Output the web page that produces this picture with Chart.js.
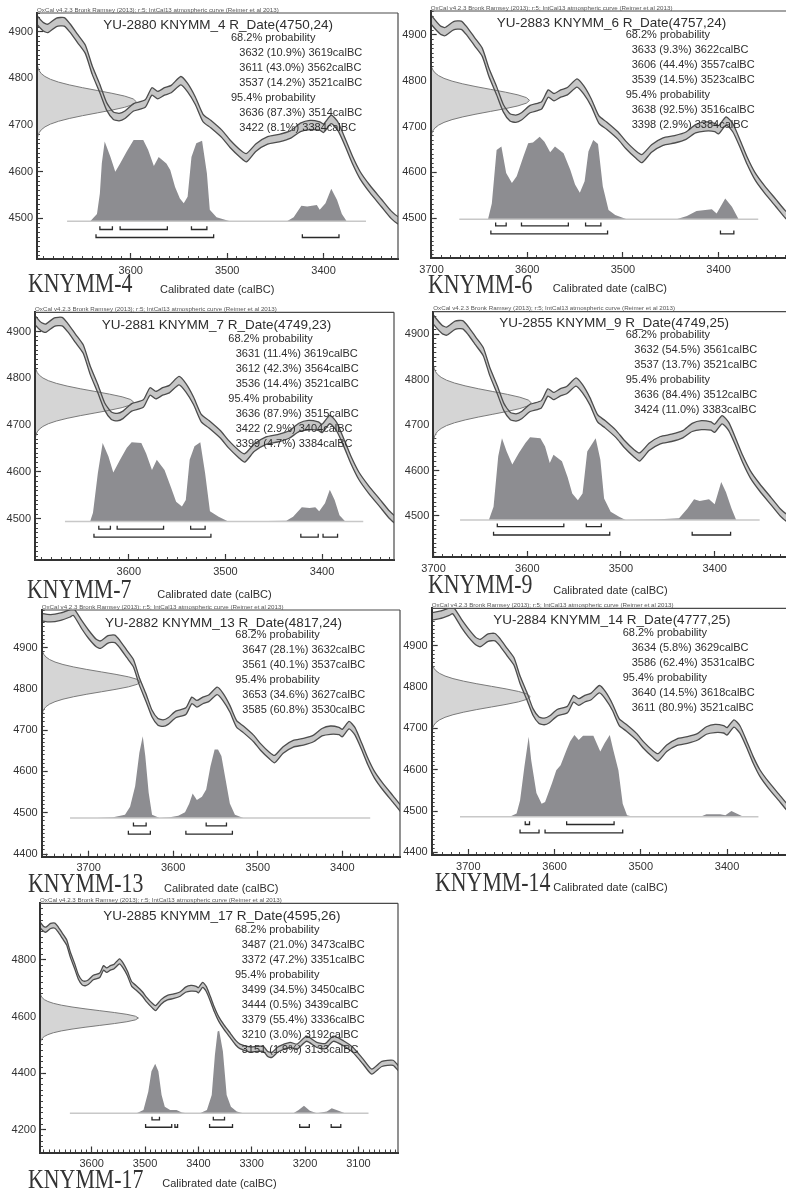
<!DOCTYPE html>
<html>
<head>
<meta charset="utf-8">
<title>OxCal calibrations KNYMM</title>
<script src="https://cdn.jsdelivr.net/npm/chart.js@4.4.1/dist/chart.umd.min.js"></script>
<style>
  html, body { margin: 0; padding: 0; background: #fff; }
  #sheet { position: relative; width: 786px; height: 1194px; overflow: hidden; font-family: "Liberation Sans", Arial, sans-serif; color: #2e2e2e; }
  #sheet canvas { position: absolute; }
  .txt { position: absolute; white-space: nowrap; z-index: 5; }
  .hdr { font-size: 6.2px; line-height: 7px; color: #555; }
  .ttl { font-size: 13.5px; line-height: 16px; }
  .prob { font-size: 11px; line-height: 15px; }
  .name { font-family: "Liberation Serif", "DejaVu Serif", serif; font-size: 27px; line-height: 27px; transform: scaleX(0.81); transform-origin: 0 0; color: #333; }
  .axt { font-size: 11px; line-height: 12px; }
</style>
</head>
<body>
<div id="sheet"></div>
<script>
// samples and their radiocarbon determinations
const sampleNames = ['KNYMM_4', 'KNYMM_6', 'KNYMM_7', 'KNYMM_9', 'KNYMM_13', 'KNYMM_14', 'KNYMM_17'];
const labCodes = ['YU-2880', 'YU-2883', 'YU-2881', 'YU-2855', 'YU-2882', 'YU-2884', 'YU-2885'];
const c14Ages = [4750, 4757, 4749, 4749, 4817, 4777, 4595];
const c14Errors = [24, 24, 23, 25, 24, 25, 26];

// calibrated ranges: [from, percent, to]
const ranges68 = [
  [[3632, 10.9, 3619], [3611, 43.0, 3562], [3537, 14.2, 3521]],
  [[3633, 9.3, 3622], [3606, 44.4, 3557], [3539, 14.5, 3523]],
  [[3631, 11.4, 3619], [3612, 42.3, 3564], [3536, 14.4, 3521]],
  [[3632, 54.5, 3561], [3537, 13.7, 3521]],
  [[3647, 28.1, 3632], [3561, 40.1, 3537]],
  [[3634, 5.8, 3629], [3586, 62.4, 3531]],
  [[3487, 21.0, 3473], [3372, 47.2, 3351]]
];
const ranges95 = [
  [[3636, 87.3, 3514], [3422, 8.1, 3384]],
  [[3638, 92.5, 3516], [3398, 2.9, 3384]],
  [[3636, 87.9, 3515], [3422, 2.9, 3404], [3399, 4.7, 3384]],
  [[3636, 84.4, 3512], [3424, 11.0, 3383]],
  [[3653, 34.6, 3627], [3585, 60.8, 3530]],
  [[3640, 14.5, 3618], [3611, 80.9, 3521]],
  [[3499, 34.5, 3450], [3444, 0.5, 3439], [3379, 55.4, 3336], [3210, 3.0, 3192], [3151, 1.9, 3133]]
];

// labelled ticks of each panel
const xTickVals = [
  [3600, 3500, 3400], [3700, 3600, 3500, 3400], [3600, 3500, 3400], [3700, 3600, 3500, 3400],
  [3700, 3600, 3500, 3400], [3700, 3600, 3500, 3400], [3600, 3500, 3400, 3300, 3200, 3100]
];
const yTickVals = [
  [4500, 4600, 4700, 4800, 4900], [4500, 4600, 4700, 4800, 4900], [4500, 4600, 4700, 4800, 4900], [4500, 4600, 4700, 4800, 4900],
  [4400, 4500, 4600, 4700, 4800, 4900], [4400, 4500, 4600, 4700, 4800, 4900], [4200, 4400, 4600, 4800]
];

// IntCal13 band (calBC, 14C age BP, half width)
const calYear = [3760, 3745, 3733, 3722, 3718, 3708, 3700, 3691, 3686, 3677, 3669, 3663, 3655, 3647, 3640, 3632, 3625, 3618, 3612, 3606,
  3597, 3585, 3578, 3572, 3565, 3558, 3548, 3541, 3533, 3525, 3517, 3505, 3497, 3486, 3480, 3470, 3458, 3446, 3434, 3424,
  3414, 3404, 3400, 3392, 3385, 3377, 3370, 3362, 3352, 3340, 3330, 3322, 3303, 3290, 3278, 3270, 3262, 3250, 3228, 3215,
  3197, 3178, 3162, 3147, 3128, 3110, 3091, 3075, 3056, 3035, 3022, 3010];
const calBP = [4975, 4971, 4975, 4983, 4987, 4955, 4932, 4911, 4907, 4920, 4921, 4908, 4885, 4862, 4818, 4778, 4740, 4720, 4717, 4722,
  4738, 4746, 4772, 4764, 4772, 4777, 4795, 4780, 4752, 4715, 4702, 4680, 4660, 4638, 4630, 4652, 4667, 4672, 4680, 4695,
  4700, 4698, 4693, 4712, 4697, 4660, 4625, 4592, 4563, 4533, 4508, 4495, 4484, 4486, 4486, 4468, 4465, 4485, 4500, 4494,
  4522, 4500, 4496, 4522, 4506, 4482, 4441, 4406, 4433, 4437, 4412, 4400];
const calErr = [9, 9, 9, 9, 9, 10, 10, 9, 9, 9, 9, 9, 9, 9, 9, 9, 8, 8, 8, 8,
  8, 8, 8, 8, 8, 8, 9, 9, 8, 8, 8, 8, 8, 8, 9, 8, 8, 8, 8, 9,
  10, 9, 9, 9, 9, 8, 8, 8, 8, 8, 8, 8, 9, 9, 9, 9, 9, 9, 9, 9,
  9, 9, 9, 9, 9, 9, 9, 9, 9, 9, 9, 9];

// posterior (calibrated) distributions, relative density in %
const postYears = [
  [3642, 3635, 3632, 3630, 3627, 3621, 3616, 3611, 3604, 3597, 3587, 3582, 3576, 3571, 3563, 3559, 3554, 3549, 3545, 3541, 3537, 3532, 3526, 3521, 3518, 3511, 3497, 3438, 3431, 3423, 3417, 3407, 3404, 3398, 3392, 3386, 3381, 3376],
  [3641, 3637, 3632, 3627, 3622, 3616, 3611, 3604, 3599, 3594, 3587, 3582, 3576, 3571, 3562, 3555, 3550, 3545, 3540, 3536, 3531, 3526, 3521, 3515, 3508, 3496, 3444, 3433, 3423, 3407, 3402, 3393, 3386, 3379],
  [3640, 3637, 3632, 3627, 3621, 3616, 3609, 3602, 3597, 3587, 3582, 3576, 3571, 3563, 3556, 3551, 3545, 3541, 3537, 3532, 3526, 3521, 3516, 3507, 3497, 3437, 3430, 3421, 3413, 3407, 3403, 3397, 3392, 3387, 3382, 3376],
  [3641, 3636, 3631, 3627, 3622, 3616, 3609, 3602, 3597, 3586, 3581, 3576, 3572, 3563, 3557, 3552, 3546, 3541, 3536, 3527, 3522, 3518, 3511, 3502, 3495, 3459, 3438, 3429, 3422, 3416, 3406, 3400, 3393, 3388, 3382, 3377],
  [3690, 3671, 3657, 3651, 3645, 3640, 3636, 3633, 3629, 3625, 3616, 3604, 3594, 3586, 3581, 3577, 3572, 3566, 3561, 3556, 3551, 3547, 3543, 3538, 3533, 3527, 3517],
  [3652, 3644, 3640, 3635, 3630, 3627, 3621, 3615, 3611, 3603, 3598, 3593, 3586, 3582, 3577, 3572, 3567, 3562, 3555, 3547, 3542, 3536, 3532, 3526, 3521, 3516, 3509, 3431, 3424, 3408, 3402, 3395, 3389, 3381],
  [3516, 3503, 3494, 3488, 3481, 3475, 3469, 3463, 3453, 3441, 3431, 3422, 3397, 3384, 3375, 3369, 3364, 3361, 3354, 3347, 3339, 3328, 3316, 3222, 3212, 3202, 3191, 3178, 3159, 3150, 3141, 3125]
];
const postDens = [
  [0, 9, 34, 71, 98, 79, 61, 71, 86, 100, 100, 88, 68, 79, 71, 63, 42, 28, 22, 30, 79, 96, 99, 59, 14, 5, 0, 0, 5, 19, 18, 20, 14, 22, 40, 26, 9, 0],
  [0, 19, 84, 88, 56, 44, 52, 76, 92, 93, 100, 94, 81, 88, 80, 60, 42, 32, 46, 82, 96, 91, 40, 11, 5, 0, 0, 4, 10, 12, 7, 25, 15, 0],
  [0, 11, 61, 99, 82, 62, 78, 93, 100, 99, 86, 65, 78, 65, 42, 25, 19, 27, 78, 95, 100, 61, 13, 6, 0, 1, 6, 18, 17, 18, 13, 23, 40, 27, 8, 0],
  [0, 16, 77, 99, 83, 67, 81, 93, 100, 99, 89, 69, 79, 71, 52, 32, 24, 32, 83, 99, 73, 26, 10, 4, 0, 1, 2, 14, 25, 23, 25, 19, 46, 34, 14, 0],
  [0, 1, 4, 14, 39, 80, 100, 76, 31, 4, 0, 1, 3, 7, 18, 30, 22, 26, 35, 63, 84, 84, 76, 47, 18, 4, 0],
  [0, 4, 20, 61, 98, 69, 29, 16, 18, 41, 57, 63, 82, 92, 100, 94, 99, 99, 99, 80, 90, 100, 82, 57, 16, 2, 0, 0, 3, 3, 2, 7, 4, 0],
  [0, 4, 26, 51, 60, 51, 22, 8, 4, 4, 1, 0, 0, 4, 22, 71, 99, 100, 75, 22, 8, 2, 0, 0, 4, 9, 3, 0, 2, 6, 4, 0]
];

// normal profile used for the R_Date curve on the age axis (sigma steps, relative width)
const gaussZ = [-3.5, -3.25, -3, -2.75, -2.5, -2.25, -2, -1.75, -1.5, -1.25, -1, -0.75, -0.5, -0.25, 0,
  0.25, 0.5, 0.75, 1, 1.25, 1.5, 1.75, 2, 2.25, 2.5, 2.75, 3, 3.25, 3.5];
const gaussW = [0.002, 0.005, 0.011, 0.023, 0.044, 0.080, 0.135, 0.216, 0.325, 0.458, 0.607, 0.755, 0.883, 0.969, 1,
  0.969, 0.883, 0.755, 0.607, 0.458, 0.325, 0.216, 0.135, 0.080, 0.044, 0.023, 0.011, 0.005, 0.002];

const oxcalHeader = 'OxCal v4.2.3 Bronk Ramsey (2013); r:5; IntCal13 atmospheric curve (Reimer et al 2013)';

// where each scanned panel sits on the sheet (plot box in px, axis ranges, text anchors)
const panelLayout = [
  {box: [37, 13, 398, 259], xr: [3697.2, 3322.8], yr: [4413, 4940], yMinor: 10, frameRight: true,
    base: 4494, peak: 174, span: [3666, 3356], brk: [8.3, 16.3],
    title: [103.3, 25], prob: [231, 239.3, 37.3], name: [28.3, 292.3], axt: [160, 289]},
  {box: [430.7, 11, 790, 258], xr: [3700.9, 3325.3], yr: [4413.1, 4952], yMinor: 10, frameRight: false,
    base: 4497.8, peak: 180, span: [3671, 3358.5], brk: [6.7, 14.7],
    title: [496.7, 23.3], prob: [625.7, 631.7, 34.3], name: [428.3, 293.3], axt: [552.7, 288.3]},
  {box: [35, 312.3, 394, 560], xr: [3697, 3325.6], yr: [4412, 4941], yMinor: 10, frameRight: true,
    base: 4494.3, peak: 169, span: [3666, 3357.4], brk: [7.7, 15.7],
    title: [101.7, 325], prob: [228.3, 235.7, 338.3], name: [26.7, 598.3], axt: [157.3, 594]},
  {box: [433.3, 311.7, 790, 557], xr: [3700.3, 3319.6], yr: [4409.7, 4949.8], yMinor: 10, frameRight: false,
    base: 4491.2, peak: 182, span: [3671.7, 3352], brk: [6.7, 15],
    title: [499.3, 323.3], prob: [625.7, 634.3, 334.3], name: [428.3, 593.3], axt: [553.3, 590]},
  {box: [41.7, 610, 400, 856.7], xr: [3755.5, 3331.8], yr: [4393.5, 4991], yMinor: 10, frameRight: true,
    base: 4487, peak: 198, span: [3722, 3367], brk: [7.7, 16],
    title: [105, 622.7], prob: [235.3, 242.3, 634.3], name: [28.3, 892.7], axt: [164, 888.3]},
  {box: [431.7, 608.3, 790, 855], xr: [3742.4, 3327.1], yr: [4393.5, 4991], yMinor: 10, frameRight: false,
    base: 4486, peak: 198, span: [3709.6, 3363.7], brk: [7.7, 16],
    title: [493.3, 620], prob: [622.7, 631.7, 632.7], name: [435, 891.7], axt: [553.3, 886.7]},
  {box: [40, 903.3, 398, 1152.5], xr: [3697, 3025.7], yr: [4120.4, 5000], yMinor: 20, frameRight: true,
    base: 4259, peak: 291, span: [3641, 3081], brk: [6.7, 14],
    title: [103.3, 916], prob: [235, 241.7, 929], name: [28.3, 1188.3], axt: [162.3, 1183.3]}
];

const sheet = document.getElementById('sheet');
const tickFont = {family: 'Liberation Sans', size: 11};

function addText(cls, text, left, top) {
  const d = document.createElement('div');
  d.className = 'txt ' + cls;
  d.textContent = text;
  d.style.left = left + 'px';
  d.style.top = top + 'px';
  sheet.appendChild(d);
}

function fmtRange(r) {
  return `${r[0]} (${r[1].toFixed(1)}%) ${r[2]}calBC`;
}

// brackets under the distribution, one per range, ticks pointing up
function bracketData(ranges, level, tick) {
  const pts = [];
  ranges.forEach(([from, , to]) => {
    pts.push({x: from, y: level + tick}, {x: from, y: level}, {x: to, y: level}, {x: to, y: level + tick}, {x: to, y: null});
  });
  return pts;
}

// minor tick marks every `step` units inside [lo, hi]
function minorTicks(lo, hi, step) {
  const t = [];
  for (let v = Math.ceil(lo / step) * step; v <= hi; v += step) t.push({value: v});
  return t;
}

// thin top (and right) edge of the plot frame
const framePlugin = {
  id: 'frame',
  afterDraw(chart, args, opts) {
    const {ctx, chartArea: a} = chart;
    ctx.save();
    ctx.strokeStyle = '#4a4a4a';
    ctx.lineWidth = 1.2;
    ctx.beginPath();
    ctx.moveTo(a.left, a.top);
    ctx.lineTo(a.right, a.top);
    if (opts.right) {
      ctx.moveTo(a.right, a.top);
      ctx.lineTo(a.right, a.bottom);
    }
    ctx.stroke();
    ctx.restore();
  }
};

panelLayout.forEach((lay, i) => {
  const [L, T, R, B] = lay.box;
  const cl = Math.floor(L - 40);
  const ct = Math.floor(T - 20);
  const cw = Math.ceil(R + 3 - cl);
  const ch = Math.ceil(B + 26 - ct);
  const axW = L - cl;
  const axH = ch - (B - ct);

  const canvas = document.createElement('canvas');
  canvas.width = cw;
  canvas.height = ch;
  canvas.style.left = cl + 'px';
  canvas.style.top = ct + 'px';
  canvas.style.width = cw + 'px';
  canvas.style.height = ch + 'px';
  sheet.appendChild(canvas);

  const [xMax, xMin] = lay.xr;
  const [yMin, yMax] = lay.yr;
  const pxPerBP = (B - T) / (yMax - yMin);
  const base = lay.base;
  const lvl68 = base - lay.brk[0] / pxPerBP;
  const lvl95 = base - lay.brk[1] / pxPerBP;
  const tick = 3.3 / pxPerBP;
  const gw = 0.275 * (xMax - xMin);

  const upper = calYear.map((yr, k) => ({x: yr, y: calBP[k] + calErr[k]}));
  const lower = calYear.map((yr, k) => ({x: yr, y: calBP[k] - calErr[k]}));
  const gauss = gaussZ.map((z, k) => ({x: xMax - gw * gaussW[k], y: c14Ages[i] + z * c14Errors[i]}));
  const post = postYears[i].map((yr, k) => ({x: yr, y: base + lay.peak * postDens[i][k] / 100}));

  new Chart(canvas, {
    type: 'line',
    data: {
      datasets: [
        {data: bracketData(ranges68[i], lvl68, tick), borderColor: '#2a2a2a', borderWidth: 1.3, fill: false},
        {data: bracketData(ranges95[i], lvl95, tick), borderColor: '#2a2a2a', borderWidth: 1.3, fill: false},
        {data: upper, borderColor: '#4d4d4d', borderWidth: 1.3, fill: false, tension: 0.2},
        {data: lower, borderColor: '#4d4d4d', borderWidth: 1.3, fill: '-1', backgroundColor: '#c6c6c6', tension: 0.2},
        {data: gauss, indexAxis: 'y', borderColor: '#7a7a7a', borderWidth: 1, fill: {value: xMax}, backgroundColor: '#d5d5d5'},
        {data: post, borderWidth: 0, fill: {value: base}, backgroundColor: '#8d8d91'},
        {data: [{x: lay.span[0], y: base}, {x: lay.span[1], y: base}], borderColor: '#c8c8c8', borderWidth: 1.5, fill: false}
      ]
    },
    options: {
      animation: false,
      responsive: false,
      devicePixelRatio: 1,
      events: [],
      layout: {padding: {top: T - ct, right: cw - (R - cl), left: 0, bottom: 0}},
      elements: {point: {radius: 0}, line: {tension: 0}},
      plugins: {
        legend: {display: false},
        tooltip: {enabled: false},
        filler: {drawTime: 'beforeDatasetsDraw'},
        frame: {right: lay.frameRight}
      },
      scales: {
        x: {
          type: 'linear', position: 'bottom', reverse: true, min: xMin, max: xMax, weight: 0,
          afterBuildTicks: (s) => { s.ticks = xTickVals[i].map((v) => ({value: v})); },
          afterFit: (s) => { s.height = axH; },
          grid: {drawOnChartArea: false, tickLength: -6, tickColor: '#333', tickWidth: 1.2},
          border: {display: true, color: '#333', width: 2, z: 2},
          ticks: {autoSkip: false, maxRotation: 0, padding: 11, color: '#333', font: tickFont, callback: (v) => String(v)}
        },
        y: {
          type: 'linear', position: 'left', min: yMin, max: yMax, weight: 0,
          afterBuildTicks: (s) => { s.ticks = yTickVals[i].map((v) => ({value: v})); },
          afterFit: (s) => { s.width = axW; },
          grid: {drawOnChartArea: false, tickLength: -6, tickColor: '#333', tickWidth: 1.2},
          border: {display: true, color: '#333', width: 2, z: 2},
          ticks: {autoSkip: false, padding: 10, color: '#333', font: tickFont, callback: (v) => String(v)}
        },
        xm: {
          type: 'linear', position: 'bottom', reverse: true, min: xMin, max: xMax, weight: -1,
          afterBuildTicks: (s) => { s.ticks = minorTicks(xMin, xMax, 10); },
          afterFit: (s) => { s.height = 0; },
          grid: {drawOnChartArea: false, tickLength: -3, tickColor: '#444', tickWidth: 1},
          border: {display: false},
          ticks: {display: false, autoSkip: false}
        },
        ym: {
          type: 'linear', position: 'left', min: yMin, max: yMax, weight: -1,
          afterBuildTicks: (s) => { s.ticks = minorTicks(yMin, yMax, lay.yMinor); },
          afterFit: (s) => { s.width = 0; },
          grid: {drawOnChartArea: false, tickLength: -3, tickColor: '#444', tickWidth: 1},
          border: {display: false},
          ticks: {display: false, autoSkip: false}
        }
      }
    },
    plugins: [framePlugin]
  });

  // texts of the panel
  addText('hdr', oxcalHeader, L, T - 7.5);
  addText('ttl', `${labCodes[i]} ${sampleNames[i]} R_Date(${c14Ages[i]},${c14Errors[i]})`, lay.title[0], lay.title[1] - 8);
  let ly = lay.prob[2];
  addText('prob', '68.2% probability', lay.prob[0], ly - 7.5);
  ly += 15;
  ranges68[i].forEach((r) => { addText('prob', fmtRange(r), lay.prob[1], ly - 7.5); ly += 15; });
  addText('prob', '95.4% probability', lay.prob[0], ly - 7.5);
  ly += 15;
  ranges95[i].forEach((r) => { addText('prob', fmtRange(r), lay.prob[1], ly - 7.5); ly += 15; });
  addText('name', sampleNames[i].replace('_', '-'), lay.name[0], lay.name[1] - 22.6);
  addText('axt', 'Calibrated date (calBC)', lay.axt[0], lay.axt[1] - 6);
});
</script>
</body>
</html>
